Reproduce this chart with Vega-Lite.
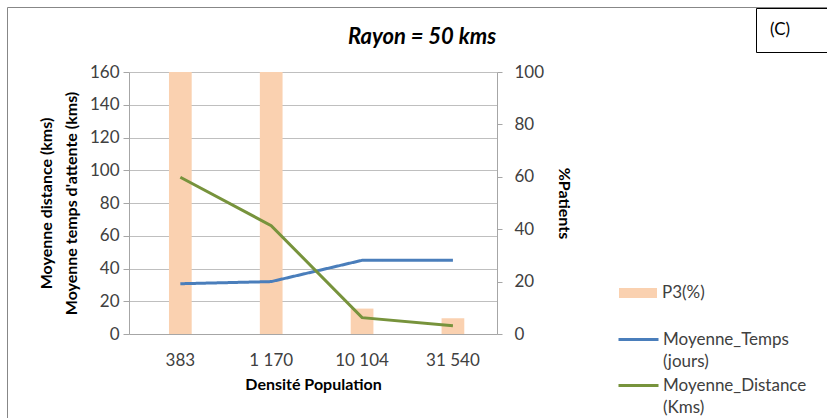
{
  "$schema": "https://vega.github.io/schema/vega-lite/v6.json",
  "width": 368,
  "height": 262,
  "autosize": {"type": "none"},
  "padding": {"left": 129, "top": 72, "right": 330, "bottom": 84},
  "background": "white",
  "config": {
    "font": "Lato",
    "view": {"stroke": null},
    "axis": {"labelFont": "Lato", "titleFont": "Lato", "labelColor": "#404040", "titleColor": "black", "domainColor": "#a6a6a6", "tickColor": "#a6a6a6", "gridColor": "#bfbfbf", "labelOverlap": false}
  },
  "title": {"text": "Rayon = 50 kms", "anchor": "middle", "frame": "group", "dx": 109, "dy": 58, "fontSize": 22, "fontStyle": "italic", "fontWeight": "bold", "font": "Lato", "color": "black", "offset": 16},
  "data": {"values": [
    {"densite": "383", "p3": 100, "temps": 30.7, "distance": 95.7},
    {"densite": "1 170", "p3": 100, "temps": 32, "distance": 66.2},
    {"densite": "10 104", "p3": 9.7, "temps": 45, "distance": 10},
    {"densite": "31 540", "p3": 6, "temps": 45, "distance": 5.1}
  ]},
  "encoding": {
    "x": {"field": "densite", "type": "nominal", "sort": null,
      "scale": {"paddingInner": 0.75, "paddingOuter": 0.4, "align": 0.55},
      "axis": {"title": "Densité Population", "labelAngle": 0, "labelFontSize": 17, "labelPadding": 18, "ticks": false, "titleFontSize": 16, "titleFontWeight": "bold", "titlePadding": 8, "grid": false}
    }
  },
  "layer": [
    {
      "mark": {"type": "bar"},
      "encoding": {
        "y": {"field": "p3", "type": "quantitative", "scale": {"domain": [0, 100]},
          "axis": {"orient": "right", "title": "%Patients", "values": [0, 20, 40, 60, 80, 100], "grid": false, "tickSize": 5, "labelPadding": 12, "labelFontSize": 17, "titleFontSize": 16, "titleFontWeight": "bold", "titlePadding": 12}},
        "fill": {"datum": "P3(%)", "type": "nominal", "scale": {"range": ["#FAD1B0"]},
          "legend": {"orient": "none", "legendX": 489, "legendY": 201, "title": null, "symbolType": "M-1,-0.26H1V0.26H-1Z", "symbolSize": 1444, "labelFontSize": 17, "labelFont": "Lato", "labelColor": "#404040", "labelOffset": 4}},
        "opacity": {"datum": 1, "type": "quantitative", "scale": {"domain": [0, 1], "range": [1, 1]},
          "legend": {"orient": "none", "legendX": 627, "legendY": -64, "title": "(C)⠀⠀", "values": [], "titleFontSize": 17, "titleFontWeight": "normal", "titleFont": "Lato", "titleColor": "black", "padding": 14, "strokeColor": "black", "fillColor": "white", "encode": {"legend": {"update": {"strokeWidth": {"value": 2}}}}}}
      }
    },
    {
      "layer": [
        {
          "mark": {"type": "line", "strokeWidth": 3},
          "encoding": {
            "y": {"field": "temps", "type": "quantitative", "scale": {"domain": [0, 160]},
              "axis": {"orient": "left", "title": ["Moyenne distance (kms)", "Moyenne temps d'attente (kms)"], "values": [0, 20, 40, 60, 80, 100, 120, 140, 160], "labelOverlap": false, "grid": true, "tickSize": 6, "labelPadding": 4, "labelFontSize": 17, "titleFontSize": 16, "titleFontWeight": "bold", "titleLineHeight": 25, "titlePadding": 10}},
            "stroke": {"datum": "Moyenne_Temps|(jours)", "type": "nominal"},
            "strokeDash": {"datum": "cadre", "type": "nominal", "scale": {"domain": ["cadre"], "range": [[1, 0]]},
              "legend": {"orient": "none", "legendX": -122, "legendY": -65, "title": null, "values": [], "padding": 430, "strokeColor": "#878787", "encode": {"legend": {"update": {"strokeWidth": {"value": 2}}}}}}
          }
        },
        {
          "mark": {"type": "line", "strokeWidth": 3},
          "encoding": {
            "y": {"field": "distance", "type": "quantitative", "scale": {"domain": [0, 160]},
              "axis": {"orient": "left", "title": ["Moyenne distance (kms)", "Moyenne temps d'attente (kms)"], "values": [0, 20, 40, 60, 80, 100, 120, 140, 160], "labelOverlap": false, "grid": true, "tickSize": 6, "labelPadding": 4, "labelFontSize": 17, "titleFontSize": 16, "titleFontWeight": "bold", "titleLineHeight": 25, "titlePadding": 10}},
            "stroke": {"datum": "Moyenne_Distance|(Kms)", "type": "nominal"}
          }
        }
      ],
      "encoding": {
        "stroke": {"scale": {"domain": ["Moyenne_Temps|(jours)", "Moyenne_Distance|(Kms)"], "range": ["#4A7EBB", "#77933C"]},
          "legend": {"orient": "none", "legendX": 498, "legendY": 256, "title": null, "symbolType": "M-2,0H2", "symbolSize": 400, "symbolStrokeWidth": 3, "labelFontSize": 17, "labelFont": "Lato", "labelColor": "#404040", "labelOffset": 13, "rowPadding": 4, "labelExpr": "split(datum.label, '|')", "encode": {"labels": {"update": {"lineHeight": {"value": 22}}}}}}
      }
    }
  ],
  "resolve": {"scale": {"y": "independent", "fill": "independent", "stroke": "independent"}}
}
